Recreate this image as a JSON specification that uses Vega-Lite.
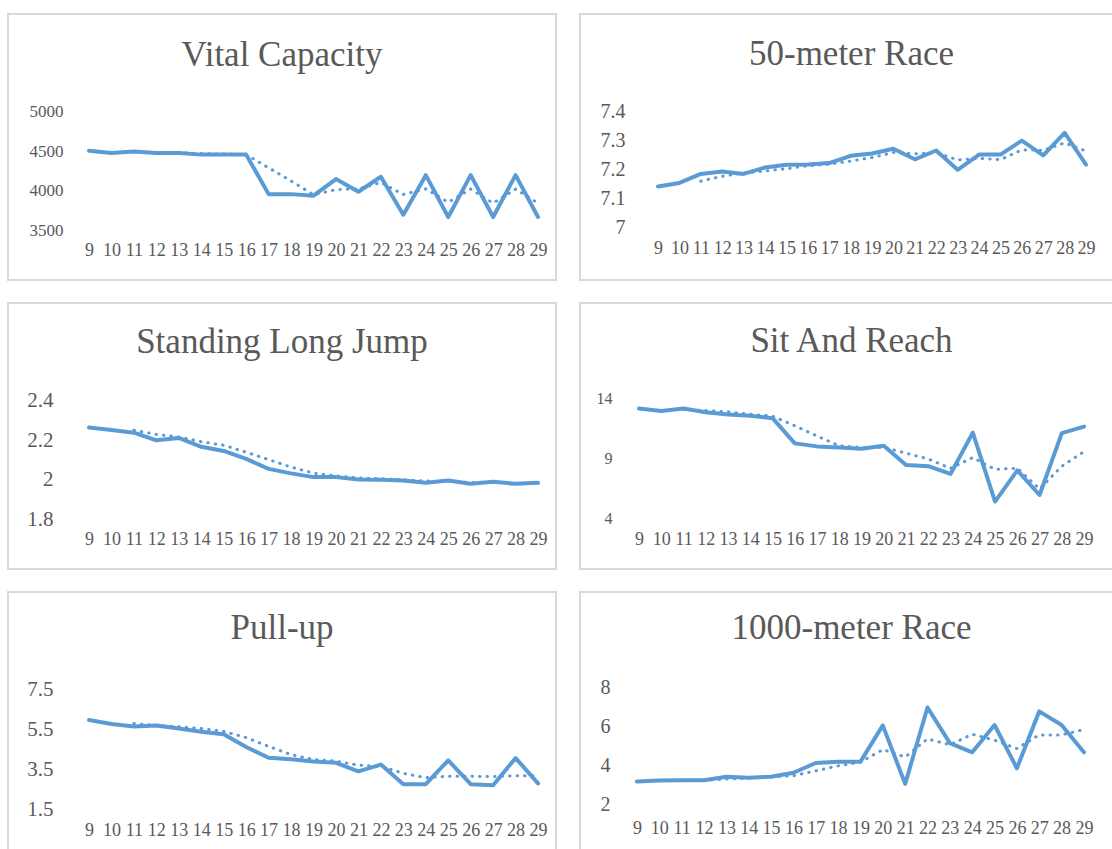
{
  "$schema": "https://vega.github.io/schema/vega-lite/v6.json",
  "background": "white",
  "padding": {"left": 7, "top": 13, "right": 0, "bottom": 0},
  "config": {
    "font": "Liberation Serif",
    "view": {"stroke": "#d9d9d9", "strokeWidth": 2},
    "axis": {"grid": false, "domain": false, "ticks": false, "labelColor": "#595959", "labelFont": "Liberation Serif", "labelOverlap": false, "labelFlush": false, "labelBound": false},
    "axisX": {"labelOverlap": false, "labelFontSize": 18},
    "axisQuantitative": {"labelOverlap": false},
    "title": {"font": "Liberation Serif", "fontSize": 35, "fontWeight": "normal", "color": "#595959", "anchor": "middle", "frame": "group", "baseline": "alphabetic"}
  },
  "datasets": {
    "vc": [
      {"age": 9, "value": 4510, "trend": null}, {"age": 10, "value": 4480, "trend": null},
      {"age": 11, "value": 4500, "trend": 4496.7}, {"age": 12, "value": 4480, "trend": 4486.7},
      {"age": 13, "value": 4480, "trend": 4486.7}, {"age": 14, "value": 4460, "trend": 4473.3},
      {"age": 15, "value": 4460, "trend": 4466.7}, {"age": 16, "value": 4460, "trend": 4460},
      {"age": 17, "value": 3960, "trend": 4293.3}, {"age": 18, "value": 3960, "trend": 4126.7},
      {"age": 19, "value": 3940, "trend": 3953.3}, {"age": 20, "value": 4150, "trend": 4016.7},
      {"age": 21, "value": 3990, "trend": 4026.7}, {"age": 22, "value": 4180, "trend": 4106.7},
      {"age": 23, "value": 3700, "trend": 3956.7}, {"age": 24, "value": 4200, "trend": 4026.7},
      {"age": 25, "value": 3670, "trend": 3856.7}, {"age": 26, "value": 4200, "trend": 4023.3},
      {"age": 27, "value": 3670, "trend": 3846.7}, {"age": 28, "value": 4200, "trend": 4023.3},
      {"age": 29, "value": 3670, "trend": 3846.7}
    ],
    "r50": [
      {"age": 9, "value": 7.142, "trend": null}, {"age": 10, "value": 7.154, "trend": null},
      {"age": 11, "value": 7.185, "trend": 7.160}, {"age": 12, "value": 7.193, "trend": 7.177},
      {"age": 13, "value": 7.185, "trend": 7.188}, {"age": 14, "value": 7.207, "trend": 7.195},
      {"age": 15, "value": 7.216, "trend": 7.203}, {"age": 16, "value": 7.217, "trend": 7.213},
      {"age": 17, "value": 7.222, "trend": 7.218}, {"age": 18, "value": 7.247, "trend": 7.229},
      {"age": 19, "value": 7.255, "trend": 7.241}, {"age": 20, "value": 7.271, "trend": 7.258},
      {"age": 21, "value": 7.235, "trend": 7.254}, {"age": 22, "value": 7.265, "trend": 7.257},
      {"age": 23, "value": 7.199, "trend": 7.233}, {"age": 24, "value": 7.251, "trend": 7.238},
      {"age": 25, "value": 7.251, "trend": 7.234}, {"age": 26, "value": 7.299, "trend": 7.267},
      {"age": 27, "value": 7.248, "trend": 7.266}, {"age": 28, "value": 7.325, "trend": 7.291},
      {"age": 29, "value": 7.217, "trend": 7.263}
    ],
    "slj": [
      {"age": 9, "value": 2.265, "trend": null}, {"age": 10, "value": 2.252, "trend": null},
      {"age": 11, "value": 2.239, "trend": 2.252}, {"age": 12, "value": 2.200, "trend": 2.230},
      {"age": 13, "value": 2.212, "trend": 2.217}, {"age": 14, "value": 2.167, "trend": 2.193},
      {"age": 15, "value": 2.146, "trend": 2.175}, {"age": 16, "value": 2.106, "trend": 2.140},
      {"age": 17, "value": 2.055, "trend": 2.102}, {"age": 18, "value": 2.032, "trend": 2.064},
      {"age": 19, "value": 2.013, "trend": 2.033}, {"age": 20, "value": 2.013, "trend": 2.019},
      {"age": 21, "value": 2.001, "trend": 2.009}, {"age": 22, "value": 2.000, "trend": 2.005},
      {"age": 23, "value": 1.996, "trend": 1.999}, {"age": 24, "value": 1.984, "trend": 1.993},
      {"age": 25, "value": 1.996, "trend": 1.992}, {"age": 26, "value": 1.979, "trend": 1.986},
      {"age": 27, "value": 1.989, "trend": 1.988}, {"age": 28, "value": 1.979, "trend": 1.982},
      {"age": 29, "value": 1.984, "trend": 1.984}
    ],
    "sar": [
      {"age": 9, "value": 13.2, "trend": null}, {"age": 10, "value": 13.0, "trend": null},
      {"age": 11, "value": 13.2, "trend": 13.133}, {"age": 12, "value": 12.9, "trend": 13.033},
      {"age": 13, "value": 12.7, "trend": 12.933}, {"age": 14, "value": 12.6, "trend": 12.733},
      {"age": 15, "value": 12.4, "trend": 12.567}, {"age": 16, "value": 10.3, "trend": 11.767},
      {"age": 17, "value": 10.05, "trend": 10.917}, {"age": 18, "value": 9.95, "trend": 10.1},
      {"age": 19, "value": 9.85, "trend": 9.95}, {"age": 20, "value": 10.1, "trend": 9.967},
      {"age": 21, "value": 8.5, "trend": 9.483}, {"age": 22, "value": 8.4, "trend": 9.0},
      {"age": 23, "value": 7.75, "trend": 8.217}, {"age": 24, "value": 11.2, "trend": 9.117},
      {"age": 25, "value": 5.45, "trend": 8.133}, {"age": 26, "value": 8.05, "trend": 8.233},
      {"age": 27, "value": 6.0, "trend": 6.5}, {"age": 28, "value": 11.15, "trend": 8.4},
      {"age": 29, "value": 11.7, "trend": 9.617}
    ],
    "pu": [
      {"age": 9, "value": 5.95, "trend": null}, {"age": 10, "value": 5.75, "trend": null},
      {"age": 11, "value": 5.62, "trend": 5.773}, {"age": 12, "value": 5.68, "trend": 5.683},
      {"age": 13, "value": 5.53, "trend": 5.61}, {"age": 14, "value": 5.36, "trend": 5.523},
      {"age": 15, "value": 5.24, "trend": 5.377}, {"age": 16, "value": 4.6, "trend": 5.067},
      {"age": 17, "value": 4.06, "trend": 4.633}, {"age": 18, "value": 3.99, "trend": 4.217},
      {"age": 19, "value": 3.88, "trend": 3.977}, {"age": 20, "value": 3.81, "trend": 3.893},
      {"age": 21, "value": 3.38, "trend": 3.69}, {"age": 22, "value": 3.72, "trend": 3.637},
      {"age": 23, "value": 2.74, "trend": 3.28}, {"age": 24, "value": 2.74, "trend": 3.067},
      {"age": 25, "value": 3.93, "trend": 3.137}, {"age": 26, "value": 2.74, "trend": 3.137},
      {"age": 27, "value": 2.69, "trend": 3.12}, {"age": 28, "value": 4.05, "trend": 3.16},
      {"age": 29, "value": 2.78, "trend": 3.173}
    ],
    "r1000": [
      {"age": 9, "value": 3.2, "trend": null}, {"age": 10, "value": 3.25, "trend": null},
      {"age": 11, "value": 3.27, "trend": 3.24}, {"age": 12, "value": 3.27, "trend": 3.263},
      {"age": 13, "value": 3.45, "trend": 3.33}, {"age": 14, "value": 3.4, "trend": 3.373},
      {"age": 15, "value": 3.45, "trend": 3.433}, {"age": 16, "value": 3.65, "trend": 3.5},
      {"age": 17, "value": 4.15, "trend": 3.75}, {"age": 18, "value": 4.22, "trend": 4.007},
      {"age": 19, "value": 4.22, "trend": 4.197}, {"age": 20, "value": 6.08, "trend": 4.84},
      {"age": 21, "value": 3.08, "trend": 4.46}, {"age": 22, "value": 7.0, "trend": 5.387},
      {"age": 23, "value": 5.17, "trend": 5.083}, {"age": 24, "value": 4.7, "trend": 5.623},
      {"age": 25, "value": 6.1, "trend": 5.323}, {"age": 26, "value": 3.88, "trend": 4.893},
      {"age": 27, "value": 6.8, "trend": 5.593}, {"age": 28, "value": 6.1, "trend": 5.593},
      {"age": 29, "value": 4.7, "trend": 5.867}
    ]
  },
  "columns": 2,
  "spacing": {"row": 21, "column": 22},
  "concat": [
    {
      "width": 548, "height": 266,
      "title": {"text": "Vital Capacity", "offset": -59},
      "data": {"name": "vc"},
      "encoding": {
        "x": {"field": "age", "type": "quantitative", "title": null, "scale": {"domain": [5.392, 29.8], "nice": false, "zero": false},
              "axis": {"values": [9,10,11,12,13,14,15,16,17,18,19,20,21,22,23,24,25,26,27,28,29], "format": "d", "labelOverlap": false, "labelFontSize": 18, "labelPadding": 11, "offset": -50}}
      },
      "layer": [
        {"data": {"values": [{"k": 1}]}, "mark": {"type": "rule", "color": "#d9d9d9", "strokeWidth": 1.5},
         "encoding": {"x": {"datum": 8.5, "type": "quantitative", "title": null}, "x2": {"datum": 29.5}, "y": {"datum": 3500, "type": "quantitative", "title": null}}},
        {"mark": {"type": "line", "color": "#5B9BD5", "strokeWidth": 4, "strokeJoin": "round", "strokeCap": "round"},
         "encoding": {
           "y": {"field": "value", "type": "quantitative", "title": null, "scale": {"domain": [2873, 6240], "nice": false, "zero": false},
                 "axis": {"values": [3500, 4000, 4500, 5000], "format": "d", "labelFontSize": 17, "labelPadding": 0, "offset": -55}}}},
        {"mark": {"type": "line", "color": "#5B9BD5", "strokeWidth": 3, "strokeDash": [0.5, 7], "strokeCap": "round"},
         "encoding": {"y": {"field": "trend", "type": "quantitative", "title": null}}}
      ]
    },
    {
      "width": 533, "height": 266,
      "title": {"text": "50-meter Race", "offset": -58, "dx": 5},
      "data": {"name": "r50"},
      "encoding": {
        "x": {"field": "age", "type": "quantitative", "title": null, "scale": {"domain": [5.355, 30.26], "nice": false, "zero": false},
              "axis": {"values": [9,10,11,12,13,14,15,16,17,18,19,20,21,22,23,24,25,26,27,28,29], "format": "d", "labelOverlap": false, "labelFontSize": 18, "labelPadding": 11, "offset": -52}}
      },
      "layer": [
        {"data": {"values": [{"k": 1}]}, "mark": {"type": "rule", "color": "#d9d9d9", "strokeWidth": 1.5},
         "encoding": {"x": {"datum": 8.5, "type": "quantitative", "title": null}, "x2": {"datum": 29.5}, "y": {"datum": 7, "type": "quantitative", "title": null}}},
        {"mark": {"type": "line", "color": "#5B9BD5", "strokeWidth": 4, "strokeJoin": "round", "strokeCap": "round"},
         "encoding": {
           "y": {"field": "value", "type": "quantitative", "title": null, "scale": {"domain": [6.822, 7.732], "nice": false, "zero": false},
                 "axis": {"values": [7, 7.1, 7.2, 7.3, 7.4], "format": "~g", "labelFontSize": 20, "labelPadding": 0, "offset": -45}}}},
        {"mark": {"type": "line", "color": "#5B9BD5", "strokeWidth": 3, "strokeDash": [0.5, 7], "strokeCap": "round"},
         "encoding": {"y": {"field": "trend", "type": "quantitative", "title": null}}}
      ]
    },
    {
      "width": 548, "height": 266,
      "title": {"text": "Standing Long Jump", "offset": -57},
      "data": {"name": "slj"},
      "encoding": {
        "x": {"field": "age", "type": "quantitative", "title": null, "scale": {"domain": [5.392, 29.8], "nice": false, "zero": false},
              "axis": {"values": [9,10,11,12,13,14,15,16,17,18,19,20,21,22,23,24,25,26,27,28,29], "format": "d", "labelOverlap": false, "labelFontSize": 18, "labelPadding": 11, "offset": -50}}
      },
      "layer": [
        {"data": {"values": [{"k": 1}]}, "mark": {"type": "rule", "color": "#d9d9d9", "strokeWidth": 1.5},
         "encoding": {"x": {"datum": 8.5, "type": "quantitative", "title": null}, "x2": {"datum": 29.5}, "y": {"datum": 1.8, "type": "quantitative", "title": null}}},
        {"mark": {"type": "line", "color": "#5B9BD5", "strokeWidth": 4, "strokeJoin": "round", "strokeCap": "round"},
         "encoding": {
           "y": {"field": "value", "type": "quantitative", "title": null, "scale": {"domain": [1.546, 2.898], "nice": false, "zero": false},
                 "axis": {"values": [1.8, 2, 2.2, 2.4], "format": "~g", "labelFontSize": 21, "labelPadding": 0, "offset": -45}}}},
        {"mark": {"type": "line", "color": "#5B9BD5", "strokeWidth": 3, "strokeDash": [0.5, 7], "strokeCap": "round"},
         "encoding": {"y": {"field": "trend", "type": "quantitative", "title": null}}}
      ]
    },
    {
      "width": 533, "height": 266,
      "title": {"text": "Sit And Reach", "offset": -56, "dx": 5},
      "data": {"name": "sar"},
      "encoding": {
        "x": {"field": "age", "type": "quantitative", "title": null, "scale": {"domain": [6.348, 30.3], "nice": false, "zero": false},
              "axis": {"values": [9,10,11,12,13,14,15,16,17,18,19,20,21,22,23,24,25,26,27,28,29], "format": "d", "labelOverlap": false, "labelFontSize": 18, "labelPadding": 11, "offset": -50}}
      },
      "layer": [
        {"data": {"values": [{"k": 1}]}, "mark": {"type": "rule", "color": "#d9d9d9", "strokeWidth": 1.5},
         "encoding": {"x": {"datum": 8.5, "type": "quantitative", "title": null}, "x2": {"datum": 29.5}, "y": {"datum": 4, "type": "quantitative", "title": null}}},
        {"mark": {"type": "line", "color": "#5B9BD5", "strokeWidth": 4, "strokeJoin": "round", "strokeCap": "round"},
         "encoding": {
           "y": {"field": "value", "type": "quantitative", "title": null, "scale": {"domain": [-0.17, 22], "nice": false, "zero": false},
                 "axis": {"values": [4, 9, 14], "format": "d", "labelFontSize": 16, "labelPadding": 0, "offset": -32}}}},
        {"mark": {"type": "line", "color": "#5B9BD5", "strokeWidth": 3, "strokeDash": [0.5, 7], "strokeCap": "round"},
         "encoding": {"y": {"field": "trend", "type": "quantitative", "title": null}}}
      ]
    },
    {
      "width": 548, "height": 266,
      "title": {"text": "Pull-up", "offset": -54},
      "data": {"name": "pu"},
      "encoding": {
        "x": {"field": "age", "type": "quantitative", "title": null, "scale": {"domain": [5.392, 29.8], "nice": false, "zero": false},
              "axis": {"values": [9,10,11,12,13,14,15,16,17,18,19,20,21,22,23,24,25,26,27,28,29], "format": "d", "labelOverlap": false, "labelFontSize": 18, "labelPadding": 12, "offset": -49}}
      },
      "layer": [
        {"data": {"values": [{"k": 1}]}, "mark": {"type": "rule", "color": "#d9d9d9", "strokeWidth": 1.5},
         "encoding": {"x": {"datum": 8.5, "type": "quantitative", "title": null}, "x2": {"datum": 29.5}, "y": {"datum": 1.5, "type": "quantitative", "title": null}}},
        {"mark": {"type": "line", "color": "#5B9BD5", "strokeWidth": 4, "strokeJoin": "round", "strokeCap": "round"},
         "encoding": {
           "y": {"field": "value", "type": "quantitative", "title": null, "scale": {"domain": [-0.95, 12.35], "nice": false, "zero": false},
                 "axis": {"values": [1.5, 3.5, 5.5, 7.5], "format": ".1f", "labelFontSize": 21, "labelPadding": 0, "offset": -45}}}},
        {"mark": {"type": "line", "color": "#5B9BD5", "strokeWidth": 3, "strokeDash": [0.5, 7], "strokeCap": "round"},
         "encoding": {"y": {"field": "trend", "type": "quantitative", "title": null}}}
      ]
    },
    {
      "width": 533, "height": 266,
      "title": {"text": "1000-meter Race", "offset": -54, "dx": 5},
      "data": {"name": "r1000"},
      "encoding": {
        "x": {"field": "age", "type": "quantitative", "title": null, "scale": {"domain": [6.45, 30.3], "nice": false, "zero": false},
              "axis": {"values": [9,10,11,12,13,14,15,16,17,18,19,20,21,22,23,24,25,26,27,28,29], "format": "d", "labelOverlap": false, "labelFontSize": 18, "labelPadding": 14, "offset": -53}}
      },
      "layer": [
        {"data": {"values": [{"k": 1}]}, "mark": {"type": "rule", "color": "#d9d9d9", "strokeWidth": 1.5},
         "encoding": {"x": {"datum": 8.5, "type": "quantitative", "title": null}, "x2": {"datum": 29.5}, "y": {"datum": 2, "type": "quantitative", "title": null}}},
        {"mark": {"type": "line", "color": "#5B9BD5", "strokeWidth": 4, "strokeJoin": "round", "strokeCap": "round"},
         "encoding": {
           "y": {"field": "value", "type": "quantitative", "title": null, "scale": {"domain": [-0.72, 12.92], "nice": false, "zero": false},
                 "axis": {"values": [2, 4, 6, 8], "format": "d", "labelFontSize": 20, "labelPadding": 0, "offset": -30}}}},
        {"mark": {"type": "line", "color": "#5B9BD5", "strokeWidth": 3, "strokeDash": [0.5, 7], "strokeCap": "round"},
         "encoding": {"y": {"field": "trend", "type": "quantitative", "title": null}}}
      ]
    }
  ]
}
